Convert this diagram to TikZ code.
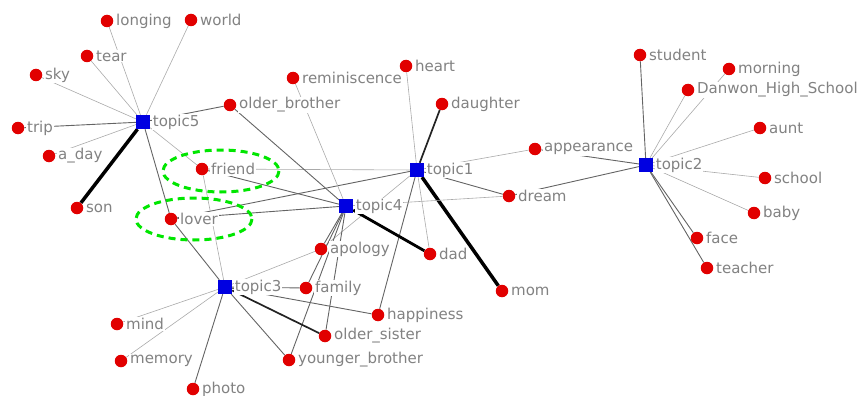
\documentclass[tikz,border=0pt]{standalone}
\usepackage{fontspec}
\setmainfont{DejaVu Sans}
\usepackage{tikz}
\usetikzlibrary{backgrounds}
\definecolor{dotred}{RGB}{225,0,0}
\definecolor{hubblue}{RGB}{0,0,225}
\definecolor{lblgray}{RGB}{130,130,130}
\definecolor{lnkgray}{RGB}{170,170,170}
\definecolor{lnkmidgray}{RGB}{100,100,100}
\definecolor{lnkdarkgray}{RGB}{35,35,35}
\definecolor{hlgreen}{RGB}{0,230,0}
\tikzset{
  word/.style={circle, fill=dotred, minimum size=12.5pt, inner sep=0pt},
  hub/.style={rectangle, fill=hubblue, minimum size=14pt, inner sep=0pt},
  lbl/.style={text=lblgray, font=\fontsize{15}{16}\selectfont, fill=white, inner sep=1pt},
  lnklight/.style={line width=0.6pt, color=lnkgray},
  lnkmid/.style={line width=0.9pt, color=lnkmidgray},
  lnkdark/.style={line width=1.7pt, color=lnkdarkgray},
  lnkbold/.style={line width=3.5pt, color=black},
  hilite/.style={hlgreen, line width=3pt, dash pattern=on 7pt off 5pt}
}

\begin{document}
\begin{tikzpicture}[x=1pt, y=-1pt, label distance=1.5pt]
  \useasboundingbox (0,0) rectangle (865,396);

  % topics
  \node[hub, label={[lbl]right:topic5}] (tp5) at (143,122) {};
  \node[hub, label={[lbl]right:topic1}] (tp1) at (417,170) {};
  \node[hub, label={[lbl]right:topic4}] (tp4) at (346,206) {};
  \node[hub, label={[lbl]right:topic3}] (tp3) at (225,287) {};
  \node[hub, label={[lbl]right:topic2}] (tp2) at (646,165) {};

  % words
  \node[word, label={[lbl]right:longing}] (longing) at (107,21) {};
  \node[word, label={[lbl]right:world}] (world) at (191,20) {};
  \node[word, label={[lbl]right:tear}] (tear) at (87,56) {};
  \node[word, label={[lbl]right:sky}] (sky) at (36,75) {};
  \node[word, label={[lbl]right:trip}] (trip) at (18,128) {};
  \node[word, label={[lbl]right:a\_day}] (aday) at (49,156) {};
  \node[word, label={[lbl]right:son}] (son) at (77,208) {};
  \node[word, label={[lbl]right:older\_brother}] (oldbro) at (230,105) {};
  \node[word, label={[lbl]right:friend}] (friend) at (202,169) {};
  \node[word, label={[lbl]right:lover}] (lover) at (171,219) {};
  \node[word, label={[lbl]right:reminiscence}] (remin) at (293,78) {};
  \node[word, label={[lbl]right:heart}] (heart) at (406,66) {};
  \node[word, label={[lbl]right:daughter}] (daughter) at (442,104) {};
  \node[word, label={[lbl]right:appearance}] (appear) at (535,149) {};
  \node[word, label={[lbl]right:dream}] (dream) at (509,196) {};
  \node[word, label={[lbl]right:apology}] (apology) at (321,249) {};
  \node[word, label={[lbl]right:dad}] (dad) at (430,254) {};
  \node[word, label={[lbl]right:family}] (family) at (306,288) {};
  \node[word, label={[lbl]right:happiness}] (happy) at (378,315) {};
  \node[word, label={[lbl]right:older\_sister}] (oldsis) at (325,336) {};
  \node[word, label={[lbl]right:younger\_brother}] (youngbro) at (289,360) {};
  \node[word, label={[lbl]right:mom}] (mom) at (502,291) {};
  \node[word, label={[lbl]right:mind}] (mind) at (117,324) {};
  \node[word, label={[lbl]right:memory}] (memory) at (121,361) {};
  \node[word, label={[lbl]right:photo}] (photo) at (193,389) {};
  \node[word, label={[lbl]right:student}] (student) at (640,55) {};
  \node[word, label={[lbl]right:morning}] (morning) at (729,69) {};
  \node[word, label={[lbl]right:Danwon\_High\_School}] (danwon) at (688,90) {};
  \node[word, label={[lbl]right:aunt}] (aunt) at (760,128) {};
  \node[word, label={[lbl]right:school}] (school) at (765,178) {};
  \node[word, label={[lbl]right:baby}] (baby) at (754,213) {};
  \node[word, label={[lbl]right:face}] (face) at (697,238) {};
  \node[word, label={[lbl]right:teacher}] (teacher) at (707,268) {};

  \begin{scope}[on background layer]
    % topic5
    \draw[lnklight] (tp5) -- (longing);
    \draw[lnklight] (tp5) -- (world);
    \draw[lnklight] (tp5) -- (tear);
    \draw[lnklight] (tp5) -- (sky);
    \draw[lnkmid] (tp5) -- (trip);
    \draw[lnklight] (tp5) -- (aday);
    \draw[lnkbold] (tp5) -- (son);
    \draw[lnkmid] (tp5) -- (oldbro);
    \draw[lnklight] (tp5) -- (friend);
    \draw[lnkmid] (tp5) -- (lover);
    % topic1
    \draw[lnklight] (tp1) -- (friend);
    \draw[lnkmid] (tp1) -- (lover);
    \draw[lnklight] (tp1) -- (heart);
    \draw[lnkdark] (tp1) -- (daughter);
    \draw[lnklight] (tp1) -- (appear);
    \draw[lnkmid] (tp1) -- (dream);
    \draw[lnkbold] (tp1) -- (mom);
    \draw[lnklight] (tp1) -- (dad);
    \draw[lnkmid] (tp1) -- (happy);
    \draw[lnklight] (tp1) -- (apology);
    % topic4
    \draw[lnkmid] (tp4) -- (friend);
    \draw[lnkmid] (tp4) -- (lover);
    \draw[lnkmid] (tp4) -- (oldbro);
    \draw[lnklight] (tp4) -- (remin);
    \draw[lnklight] (tp4) -- (dream);
    \draw[lnkbold, line width=2.8pt] (tp4) -- (dad);
    \draw[lnkmid] (tp4) -- (apology);
    \draw[lnkmid] (tp4) -- (family);
    \draw[lnkmid] (tp4) -- (oldsis);
    \draw[lnkmid] (tp4) -- (youngbro);
    % topic3
    \draw[lnklight] (tp3) -- (friend);
    \draw[lnkmid] (tp3) -- (lover);
    \draw[lnklight] (tp3) -- (mind);
    \draw[lnklight] (tp3) -- (memory);
    \draw[lnkmid] (tp3) -- (photo);
    \draw[lnkmid] (tp3) -- (family);
    \draw[lnklight] (tp3) -- (apology);
    \draw[lnkmid] (tp3) -- (happy);
    \draw[lnkdark] (tp3) -- (oldsis);
    \draw[lnkmid] (tp3) -- (youngbro);
    % topic2
    \draw[lnkmid] (tp2) -- (student);
    \draw[lnklight] (tp2) -- (morning);
    \draw[lnklight] (tp2) -- (danwon);
    \draw[lnklight] (tp2) -- (aunt);
    \draw[lnklight] (tp2) -- (school);
    \draw[lnklight] (tp2) -- (baby);
    \draw[lnkmid] (tp2) -- (face);
    \draw[lnkmid] (tp2) -- (teacher);
    \draw[lnkmid] (tp2) -- (appear);
    \draw[lnkmid] (tp2) -- (dream);
  \end{scope}

  % highlighted words
  \draw[hilite] (221,171) ellipse [x radius=58, y radius=21];
  \draw[hilite] (194,219) ellipse [x radius=58, y radius=21];

\end{tikzpicture}
\end{document}
